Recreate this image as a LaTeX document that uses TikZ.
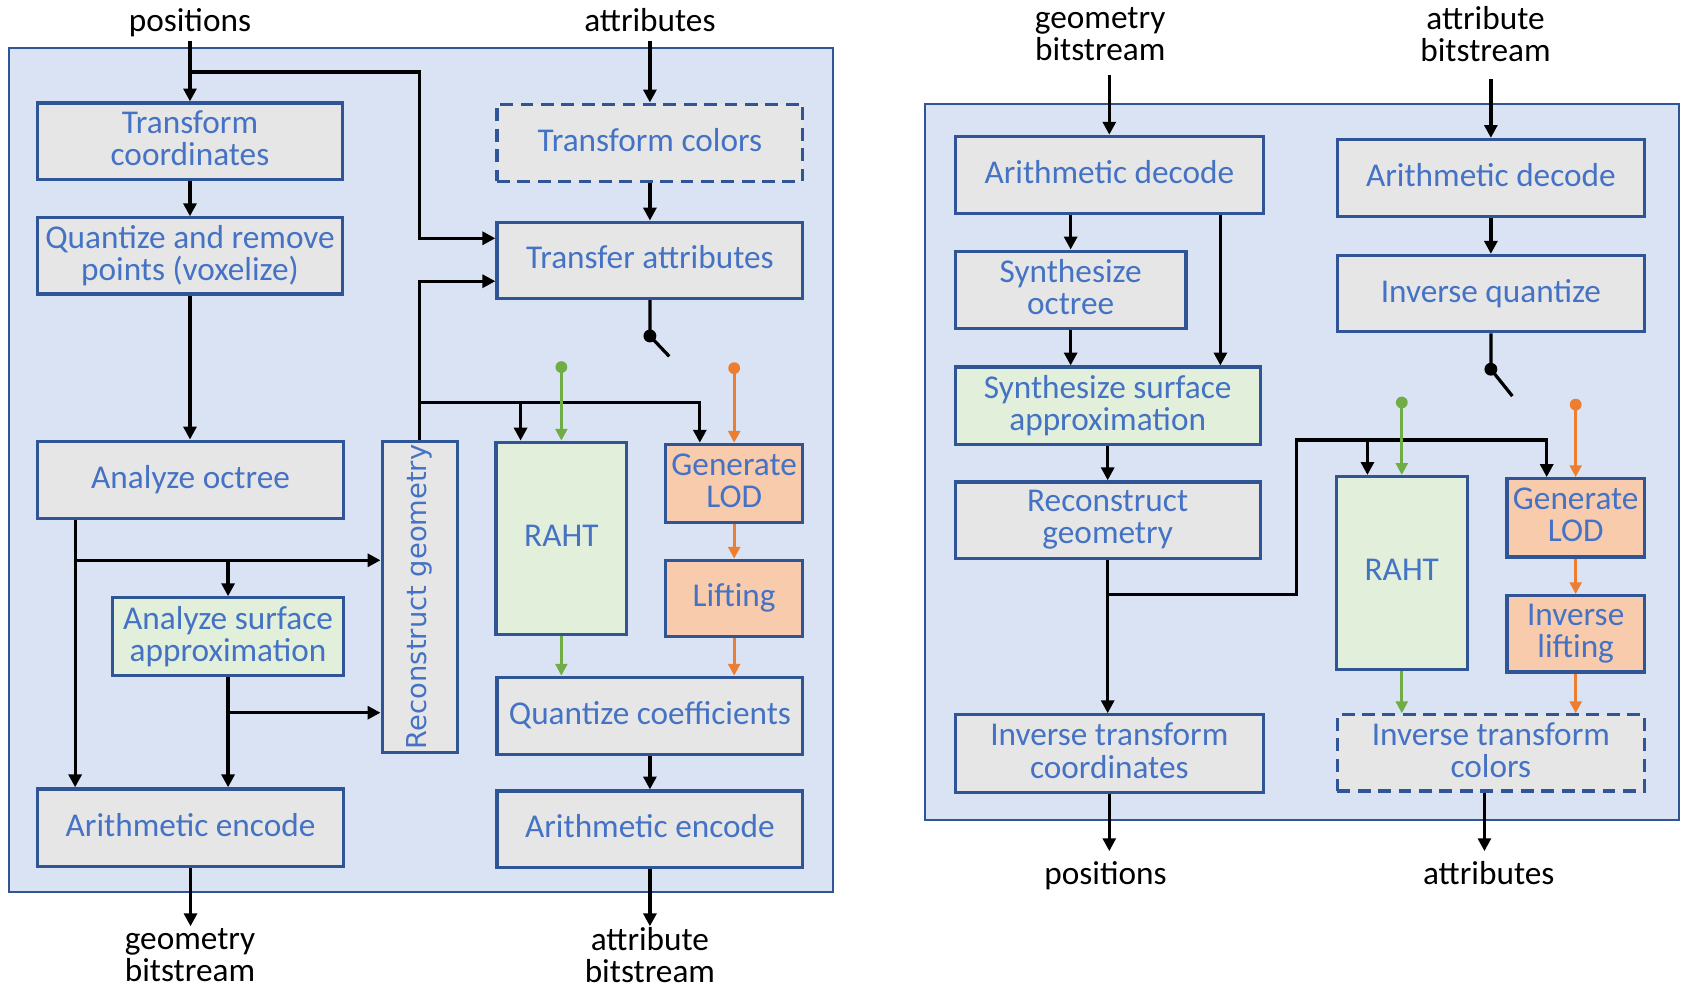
\documentclass[tikz,border=0pt]{standalone}
\usepackage{fontspec}
\setmainfont{Carlito}
\newfontfamily\rotfont{DejaVu Sans}
\usetikzlibrary{arrows.meta}

\definecolor{panelfill}{HTML}{DAE3F3}
\definecolor{panelline}{HTML}{2F5597}
\definecolor{boxfill}{HTML}{E7E6E6}
\definecolor{boxline}{HTML}{2F5597}
\definecolor{txtblue}{HTML}{4472C4}
\definecolor{greenfill}{HTML}{E2EFDA}
\definecolor{orangefill}{HTML}{F8CBAD}
\definecolor{greenline}{HTML}{70AD47}
\definecolor{orangeline}{HTML}{ED7D31}

\begin{document}
\begin{tikzpicture}[x=1pt, y=-1pt,
  panel/.style={fill=panelfill, draw=panelline, line width=2pt},
  blk/.style={draw=boxline, fill=boxfill, line width=3pt, text=txtblue,
    align=center, inner sep=0pt, font=\fontsize{31}{30}\selectfont,
    execute at end node={\vphantom{g}}},
  greenblk/.style={blk, fill=greenfill},
  orangeblk/.style={blk, fill=orangefill},
  dashblk/.style={blk, dash pattern=on 12pt off 7pt},
  lbl/.style={text=black, align=center, inner sep=0pt, font=\fontsize{31}{30}\selectfont},
  conn/.style={line width=3pt, -{Triangle[length=12pt,width=12pt]}},
  wire/.style={line width=3pt},
  gconn/.style={draw=greenline, line width=2.6pt, -{Triangle[length=11pt,width=11pt]}},
  oconn/.style={draw=orangeline, line width=2.6pt, -{Triangle[length=11pt,width=11pt]}}
]
\useasboundingbox (0,0) rectangle (1568,920);

% ---------------- encoder ----------------
\draw[panel] (8,45) rectangle (776,831);

\node[blk, minimum width=284pt, minimum height=71pt] (tc) at (177,131.5) {Transform\\coordinates};
\node[blk, minimum width=284pt, minimum height=71pt] (qv) at (177,238.5) {Quantize and remove\\points (voxelize)};
\node[blk, minimum width=285pt, minimum height=72pt] (ao) at (177.5,447) {Analyze octree};
\node[greenblk, minimum width=215pt, minimum height=72pt] (as) at (212.5,593) {Analyze surface\\approximation};
\node[blk, minimum width=70pt, minimum height=290pt, execute at end node={}] (rg) at (391,556) {};
\node[rotate=90, text=txtblue, inner sep=0pt, font=\rotfont\fontsize{25.5}{30}\selectfont] (rglbl) at (rg.center) {Reconstruct geometry};
\node[blk, minimum width=285pt, minimum height=72pt] (ae1) at (177.5,771) {Arithmetic encode};

\node[dashblk, minimum width=285pt, minimum height=72pt] (tcol) at (605.5,133) {Transform colors};
\node[blk, minimum width=285pt, minimum height=71pt] (ta) at (605.5,242.5) {Transfer attributes};
\node[greenblk, minimum width=122pt, minimum height=179pt] (raht) at (523,501.5) {RAHT};
\node[orangeblk, minimum width=128pt, minimum height=73pt] (glod) at (684,450.5) {Generate\\LOD};
\node[orangeblk, minimum width=128pt, minimum height=71pt] (lift) at (684,557.5) {Lifting};
\node[blk, minimum width=285pt, minimum height=72pt] (qc) at (605.5,667) {Quantize coefficients};
\node[blk, minimum width=285pt, minimum height=71pt] (ae2) at (605.5,772.5) {Arithmetic encode};

\node[lbl, anchor=base] (pos1) at (177,29) {positions};
\node[lbl, anchor=base] (att1) at (605.5,29) {attributes};
\node[lbl] (gbs1) at (177,890) {geometry\\bitstream};
\node[lbl] (abs1) at (605.5,889.5) {attribute\\bitstream};

% geometry path
\draw[conn] (pos1.south |- 0,38) -- (tc.north);
\draw[conn] (tc.north |- 0,67) -| (391,222) -- (ta.west |- 0,222);
\draw[conn] (tc.south) -- (qv.north);
\draw[conn] (qv.south) -- (qv.south |- ao.north);
\draw[conn] (ao.south -| 70,0) -- (ae1.north -| 70,0);
\draw[conn] (70,522) -- (rg.west |- 0,522);
\draw[conn] (as.north |- 0,522) -- (as.north);
\draw[conn] (as.south) -- (as.south |- ae1.north);
\draw[conn] (as.south |- 0,664) -- (rg.west |- 0,664);
\draw[conn] (rg.north) |- (ta.west |- 0,262);
\draw[conn] (rg.north |- 0,375) -| (glod.north -| 652,0);
\draw[conn] (485,375) -- (raht.north -| 485,0);
\draw[conn] (ae1.south) -- (ae1.south |- 0,863);

% attribute path
\draw[conn] (att1.south |- 0,38) -- (tcol.north);
\draw[conn] (tcol.south) -- (ta.north);
\draw[wire] (ta.south) -- (ta.south |- 0,313) coordinate (sw1) -- ++(18,19);
\fill (sw1) circle[radius=6pt];
\coordinate (gd1) at (raht.north |- 0,342);
\fill[greenline] (gd1) circle[radius=5.5pt];
\draw[gconn] (gd1) -- (raht.north);
\draw[gconn] (raht.south) -- (raht.south |- qc.north);
\coordinate (od1) at (glod.north |- 0,343);
\fill[orangeline] (od1) circle[radius=5.5pt];
\draw[oconn] (od1) -- (glod.north);
\draw[oconn] (glod.south) -- (lift.north);
\draw[oconn] (lift.south) -- (lift.south |- qc.north);
\draw[conn] (qc.south) -- (ae2.north);
\draw[conn] (ae2.south) -- (ae2.south |- 0,863);

% ---------------- decoder ----------------
\draw[panel] (862,97) rectangle (1564,764);

\node[blk, minimum width=287pt, minimum height=72pt] (ad1) at (1033.5,163) {Arithmetic decode};
\node[blk, minimum width=215pt, minimum height=72pt] (so) at (997.5,270) {Synthesize\\octree};
\node[greenblk, minimum width=284pt, minimum height=72pt] (sa) at (1032,378) {Synthesize surface\\approximation};
\node[blk, minimum width=284pt, minimum height=71pt] (rg2) at (1032,484.5) {Reconstruct\\geometry};
\node[blk, minimum width=287pt, minimum height=72pt] (itc) at (1033.5,702) {Inverse transform\\coordinates};

\node[blk, minimum width=286pt, minimum height=72pt] (ad2) at (1389,166) {Arithmetic decode};
\node[blk, minimum width=286pt, minimum height=71pt] (iq) at (1389,273.5) {Inverse quantize};
\node[greenblk, minimum width=122pt, minimum height=180pt] (raht2) at (1306,534) {RAHT};
\node[orangeblk, minimum width=128pt, minimum height=73pt] (glod2) at (1468,482.5) {Generate\\LOD};
\node[orangeblk, minimum width=128pt, minimum height=71pt] (ilift) at (1468,590.5) {Inverse\\lifting};
\node[dashblk, minimum width=286pt, minimum height=71pt] (itcol) at (1389,701.5) {Inverse transform\\colors};

\node[lbl] (gbs2) at (1025,32) {geometry\\bitstream};
\node[lbl] (abs2) at (1384,31.5) {attribute\\bitstream};
\node[lbl, anchor=base] (pos2) at (1030,824) {positions};
\node[lbl, anchor=base] (att2) at (1387,824) {attributes};

% geometry path
\draw[conn] (ad1.north |- 0,70) -- (ad1.north);
\draw[conn] (so.north |- ad1.south) -- (so.north);
\draw[conn] (ad1.south -| 1137,0) -- (sa.north -| 1137,0);
\draw[conn] (so.south) -- (so.south |- sa.north);
\draw[conn] (sa.south) -- (rg2.north);
\draw[conn] (rg2.south) -- (rg2.south |- itc.north);
\draw[conn] (rg2.south |- 0,554) -| (1208,410) -| (glod2.north -| 1441,0);
\draw[conn] (1274,410) -- (raht2.north -| 1274,0);
\draw[conn] (itc.south) -- (itc.south |- 0,793);

% attribute path
\draw[conn] (ad2.north |- 0,74) -- (ad2.north);
\draw[conn] (ad2.south) -- (iq.north);
\draw[wire] (iq.south) -- (iq.south |- 0,344) coordinate (sw2) -- ++(20,25);
\fill (sw2) circle[radius=6pt];
\coordinate (gd2) at (raht2.north |- 0,375);
\fill[greenline] (gd2) circle[radius=5.5pt];
\draw[gconn] (gd2) -- (raht2.north);
\draw[gconn] (raht2.south) -- (raht2.south |- itcol.north);
\coordinate (od2) at (glod2.north |- 0,377);
\fill[orangeline] (od2) circle[radius=5.5pt];
\draw[oconn] (od2) -- (glod2.north);
\draw[oconn] (glod2.south) -- (ilift.north);
\draw[oconn] (ilift.south) -- (ilift.south |- itcol.north);
\draw[conn] (itcol.south -| 1383,0) -- (1383,793);
\end{tikzpicture}
\end{document}
